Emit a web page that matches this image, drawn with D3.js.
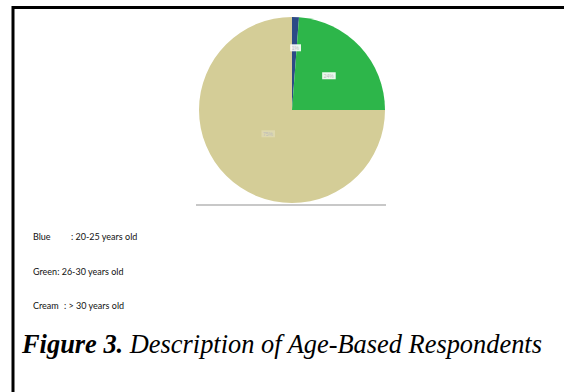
<!DOCTYPE html>
<html><head><meta charset="utf-8">
<script src="https://cdn.jsdelivr.net/npm/d3@7"></script>
<style>body{margin:0;background:#fff}svg{display:block}</style>
</head><body>
<script>
const categories = ["Blue", "Green", "Cream"];
const values = [1.2, 23.8, 75];
const sliceLabels = ["1%", "24%", "75%"];
const colors = ["#2c4a86", "#2db64a", "#d4cd97"];
const legendNames = ["Blue", "Green", "Cream"];
const legendTexts = [": 20-25 years old", ": 26-30 years old", ": > 30 years old"];
const legendOffsets = [38, 0, 31];
const captionBold = "Figure 3.";
const captionRest = " Description of Age-Based Respondents";

const W = 564, H = 392;
const svg = d3.select("body").append("svg").attr("width", W).attr("height", H);

// frame
svg.append("line").attr("x1", 12).attr("x2", W).attr("y1", 7.5).attr("y2", 7.5).attr("stroke", "#000").attr("stroke-width", 3);
svg.append("line").attr("x1", 13).attr("x2", 13).attr("y1", 6).attr("y2", H).attr("stroke", "#000").attr("stroke-width", 3);

const cx = 292, cy = 110, r = 93;
const pie = d3.pie().sort(null).value(d => d)(values);
const arc = d3.arc().innerRadius(0).outerRadius(r);
const g = svg.append("g").attr("transform", `translate(${cx},${cy})`);
g.selectAll("path").data(pie).join("path")
  .attr("d", arc).attr("fill", (d, i) => colors[i]);

// gray baseline under pie
svg.append("line").attr("x1", 196).attr("x2", 386).attr("y1", 205).attr("y2", 205)
  .attr("stroke", "#c8c8c8").attr("stroke-width", 2);

// slice labels
const labelArc = [d3.arc().innerRadius(62).outerRadius(62), d3.arc().innerRadius(50).outerRadius(50), d3.arc().innerRadius(34).outerRadius(34)];
pie.forEach((d, i) => {
  const [x, y] = labelArc[i].centroid(d);
  const lg = g.append("g").attr("transform", `translate(${i===0?x+1:x},${y})`);
  const t = lg.append("text").attr("text-anchor", "middle").attr("dy", "0.35em")
    .attr("font-family", "Liberation Sans, Arial, sans-serif").attr("font-size", 5)
    .attr("fill", "#bbb").text(sliceLabels[i]);
  const bb = t.node().getBBox();
  lg.insert("rect", "text").attr("x", bb.x - 1.5).attr("y", bb.y - 0.5)
    .attr("width", bb.width + 3).attr("height", bb.height + 1)
    .attr("fill", i === 2 ? "#e2ddb8" : "#fff").attr("opacity", i === 2 ? 0.7 : 0.9);
});

// legend
const ly = [237, 272, 306];
legendNames.forEach((n, i) => {
  const t = svg.append("text").attr("x", 33).attr("y", ly[i]).attr("dy", "0.35em")
    .attr("font-family", "Lato, Open Sans, sans-serif").attr("font-size", 9).attr("fill", "#111");
  t.append("tspan").text(n);
  const ts = t.append("tspan").text(legendTexts[i]);
  if (legendOffsets[i]) ts.attr("x", 33 + legendOffsets[i]);
});

// caption
const cap = svg.append("text").attr("x", 22).attr("y", 353)
  .attr("font-family", "Liberation Serif, Times New Roman, serif").attr("font-size", 26.4)
  .attr("font-style", "italic").attr("fill", "#000");
cap.append("tspan").attr("font-weight", "bold").text(captionBold);
cap.append("tspan").text(captionRest);
</script>
</body></html>
